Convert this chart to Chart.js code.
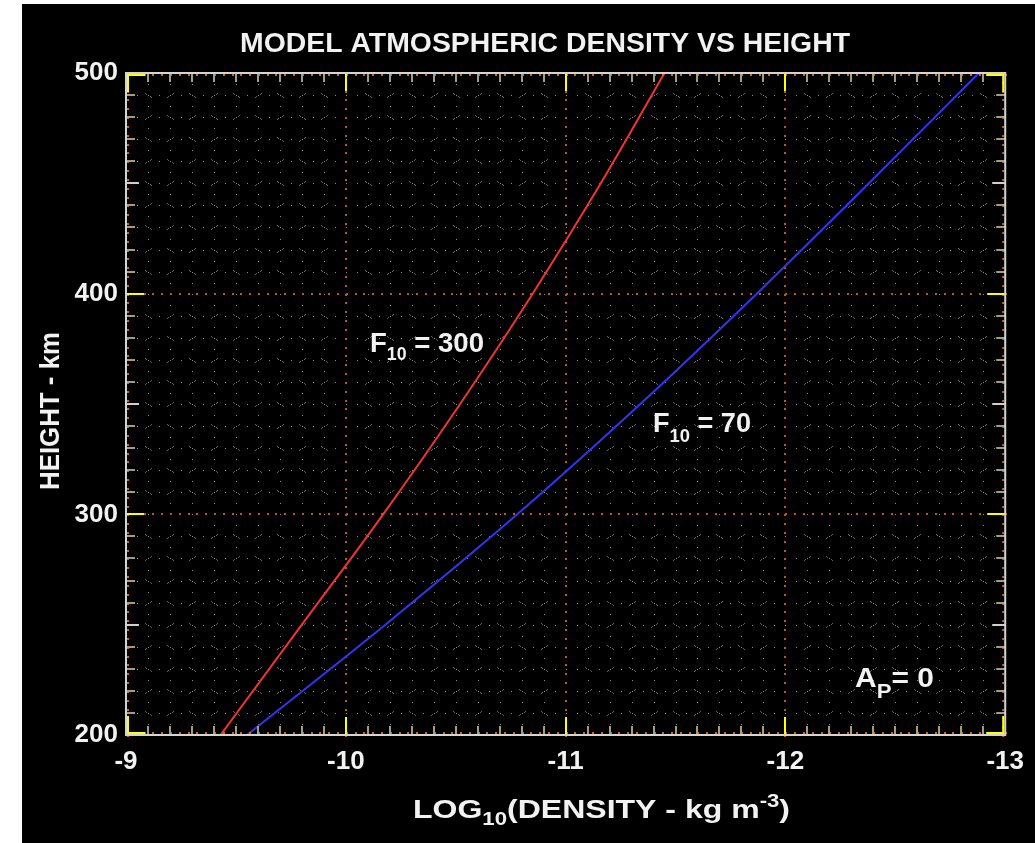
<!DOCTYPE html>
<html>
<head>
<meta charset="utf-8">
<title>Model Atmospheric Density vs Height</title>
<script src="https://cdn.jsdelivr.net/npm/chart.js@4.4.1/dist/chart.umd.min.js"></script>
<style>
  html, body { margin: 0; padding: 0; background: #ffffff; overflow: hidden; }
  #wrap { position: absolute; left: 0; top: 0; width: 1035px; height: 843px; }
  canvas { display: block; }
</style>
</head>
<body>
<div id="wrap"><canvas id="chart" width="1035" height="843"></canvas></div>
<script>
// Height (km) and log10 density (kg m^-3) for two solar flux levels, Ap = 0
const heightsKm = [200, 250, 300, 350, 400, 450, 500];
const logDensityF300 = [-9.43, -9.80, -10.17, -10.52, -10.85, -11.16, -11.45];
const logDensityF70  = [-9.55, -10.18, -10.78, -11.34, -11.87, -12.38, -12.88];

// Labelled ticks
const xTickValues = [-9, -10, -11, -12, -13];
const yTickValues = [200, 300, 400, 500];

const FAMILY = '"Liberation Sans", Arial, Helvetica, sans-serif';
const TEXT = '#f2f2f2';

// Draws a run of text pieces (with sub/superscripts), squeezed to a given width
function drawRich(ctx, parts, x, baseline, width) {
  let total = 0;
  parts.forEach(p => {
    ctx.font = `bold ${p.size}px ${FAMILY}`;
    p.w = ctx.measureText(p.t).width;
    total += p.w;
  });
  const k = width ? width / total : 1;
  ctx.save();
  ctx.translate(x, baseline);
  ctx.scale(k, 1);
  ctx.fillStyle = TEXT;
  ctx.textAlign = 'left';
  ctx.textBaseline = 'alphabetic';
  let cx = 0;
  parts.forEach(p => {
    ctx.font = `bold ${p.size}px ${FAMILY}`;
    ctx.fillText(p.t, cx, p.dy || 0);
    cx += p.w;
  });
  ctx.restore();
}

// Black panel behind the whole figure
const backdrop = {
  id: 'backdrop',
  beforeDraw(chart) {
    const ctx = chart.ctx;
    ctx.save();
    ctx.fillStyle = '#ffffff';
    ctx.fillRect(0, 0, chart.width, chart.height);
    ctx.fillStyle = '#000000';
    ctx.fillRect(22, 4, chart.width - 22, chart.height - 4);
    ctx.restore();
  }
};

// Dotted minor grid and orange dotted major grid
const plotGrid = {
  id: 'plotGrid',
  beforeDatasetsDraw(chart) {
    const { ctx, scales: { x, y } } = chart;
    ctx.save();
    // minor lines: gray dots every half minor step
    ctx.fillStyle = '#8a8a8a';
    for (let i = 1; i < 40; i++) {
      if (i % 10 === 0) continue;
      const px = Math.round(x.getPixelForValue(-9 - i * 0.1));
      for (let j = 0; j <= 60; j++) {
        const py = Math.round(y.getPixelForValue(200 + j * 5));
        ctx.fillRect(px, py, 1, 1);
      }
    }
    for (let i = 1; i < 30; i++) {
      if (i % 10 === 0) continue;
      const py = Math.round(y.getPixelForValue(200 + i * 10));
      for (let j = 0; j <= 80; j++) {
        const px = Math.round(x.getPixelForValue(-9 - j * 0.05));
        ctx.fillRect(px, py, 1, 1);
      }
    }
    // small diagonal specks beside each minor crossing
    ctx.fillStyle = '#5e5e5e';
    for (let i = 1; i < 40; i++) {
      if (i % 10 === 0) continue;
      const px = Math.round(x.getPixelForValue(-9 - i * 0.1));
      for (let k = 1; k < 30; k++) {
        if (k % 10 === 0) continue;
        const py = Math.round(y.getPixelForValue(200 + k * 10));
        const s = (i + k) % 2 === 0 ? 1 : -1;
        ctx.fillRect(px - 3, py - 2 * s, 1, 1);
        ctx.fillRect(px - 2, py - 1 * s, 1, 1);
        ctx.fillRect(px + 2, py + 1 * s, 1, 1);
        ctx.fillRect(px + 3, py + 2 * s, 1, 1);
      }
    }
    // major lines: orange dots
    ctx.fillStyle = '#c05a0e';
    [-10, -11, -12].forEach(v => {
      const px = Math.round(x.getPixelForValue(v));
      for (let j = 0; j <= 75; j++) {
        const py = Math.round(y.getPixelForValue(200 + j * 4));
        ctx.fillRect(px - 1, py, 2, 2);
      }
    });
    [300, 400].forEach(v => {
      const py = Math.round(y.getPixelForValue(v));
      for (let j = 0; j <= 100; j++) {
        const px = Math.round(x.getPixelForValue(-9 - j * 0.04));
        ctx.fillRect(px, py - 1, 2, 2);
      }
    });
    ctx.restore();
  }
};

// Frame, inward ticks, corner marks and all annotation text
const frameAndText = {
  id: 'frameAndText',
  afterDatasetsDraw(chart) {
    const { ctx, chartArea: a, scales: { x, y } } = chart;
    ctx.save();

    // orange dotted rim just inside the frame
    ctx.fillStyle = '#d8640e';
    for (let j = 0; j <= 100; j++) {
      const px = Math.round(x.getPixelForValue(-9 - j * 0.04));
      ctx.fillRect(px, a.top + 1, 2, 2);
      ctx.fillRect(px, a.bottom - 3, 2, 2);
    }
    for (let j = 0; j <= 75; j++) {
      const py = Math.round(y.getPixelForValue(200 + j * 4));
      ctx.fillRect(a.left + 1, py, 2, 2);
      ctx.fillRect(a.right - 3, py, 2, 2);
    }

    // minor ticks (tan), mid ticks on the height axis (light)
    ctx.fillStyle = '#a49e80';
    for (let i = 1; i < 40; i++) {
      if (i % 10 === 0) continue;
      const px = Math.round(x.getPixelForValue(-9 - i * 0.1));
      ctx.fillRect(px - 1, a.bottom - 9, 2, 9);
      ctx.fillRect(px - 1, a.top, 2, 9);
    }
    for (let i = 1; i < 30; i++) {
      if (i % 10 === 0) continue;
      const py = Math.round(y.getPixelForValue(200 + i * 10));
      const len = (i % 5 === 0) ? 13 : 9;
      ctx.fillStyle = (i % 5 === 0) ? '#cfcfcf' : '#a49e80';
      ctx.fillRect(a.left, py - 1, len, 2);
      ctx.fillRect(a.right - len, py - 1, len, 2);
    }

    // major ticks (yellow)
    ctx.fillStyle = '#ffff00';
    [-10, -11, -12].forEach(v => {
      const px = Math.round(x.getPixelForValue(v));
      ctx.fillRect(px - 1, a.bottom - 18, 2, 18);
      ctx.fillRect(px - 1, a.top, 2, 18);
    });
    [300, 400].forEach(v => {
      const py = Math.round(y.getPixelForValue(v));
      ctx.fillRect(a.left, py - 1, 18, 2);
      ctx.fillRect(a.right - 18, py - 1, 18, 2);
    });

    // frame
    ctx.strokeStyle = '#d4d4d4';
    ctx.lineWidth = 2;
    ctx.strokeRect(a.left, a.top, a.right - a.left, a.bottom - a.top);

    // yellow corner marks
    ctx.fillStyle = '#ffff00';
    const L = 18;
    ctx.fillRect(a.left + 1, a.top + 1, L, 2);
    ctx.fillRect(a.left + 1, a.top + 1, 2, L);
    ctx.fillRect(a.right - 1 - L, a.top + 1, L, 2);
    ctx.fillRect(a.right - 3, a.top + 1, 2, L);
    ctx.fillRect(a.left + 1, a.bottom - 3, L, 2);
    ctx.fillRect(a.left + 1, a.bottom - 1 - L, 2, L);
    ctx.fillRect(a.right - 1 - L, a.bottom - 3, L, 2);
    ctx.fillRect(a.right - 3, a.bottom - 1 - L, 2, L);

    // titles
    drawRich(ctx, [{ t: 'MODEL ATMOSPHERIC DENSITY VS HEIGHT', size: 28 }], 240, 52, 610);
    drawRich(ctx, [
      { t: 'LOG', size: 26 },
      { t: '10', size: 18, dy: 7 },
      { t: '(DENSITY - kg m', size: 26 },
      { t: '-3', size: 18, dy: -11 },
      { t: ')', size: 26 }
    ], 413, 818, 377);

    ctx.save();
    ctx.translate(59, 490);
    ctx.rotate(-Math.PI / 2);
    drawRich(ctx, [{ t: 'HEIGHT - km', size: 27 }], 0, 0, 158);
    ctx.restore();

    // curve labels
    drawRich(ctx, [
      { t: 'F', size: 28 }, { t: '10', size: 18, dy: 8 }, { t: ' = 300', size: 28 }
    ], 370, 352, 114);
    drawRich(ctx, [
      { t: 'F', size: 28 }, { t: '10', size: 19, dy: 10 }, { t: ' = 70', size: 28 }
    ], 653, 432, 98);
    drawRich(ctx, [
      { t: 'A', size: 27 }, { t: 'P', size: 20, dy: 11 }, { t: '= 0', size: 27 }
    ], 855, 687, 79);

    ctx.restore();
  }
};

const toPoints = (xs, ys) => xs.map((v, i) => ({ x: v, y: ys[i] }));

new Chart(document.getElementById('chart'), {
  type: 'line',
  data: {
    datasets: [
      {
        label: 'F10 = 300',
        data: toPoints(logDensityF300, heightsKm),
        borderColor: '#f03434',
        borderWidth: 2,
        pointRadius: 0,
        cubicInterpolationMode: 'monotone',
        fill: false
      },
      {
        label: 'F10 = 70',
        data: toPoints(logDensityF70, heightsKm),
        borderColor: '#3434f0',
        borderWidth: 2,
        pointRadius: 0,
        cubicInterpolationMode: 'monotone',
        fill: false
      }
    ]
  },
  options: {
    responsive: false,
    animation: false,
    devicePixelRatio: 1,
    layout: { padding: { left: 0, top: 73, right: 25, bottom: 0 } },
    plugins: { legend: { display: false }, tooltip: { enabled: false }, title: { display: false } },
    scales: {
      x: {
        type: 'linear',
        min: -13,
        max: -9,
        reverse: true,
        afterBuildTicks(s) { s.ticks = xTickValues.map(v => ({ value: v })); },
        afterFit(s) { s.height = 108; },
        grid: { display: false, drawTicks: false },
        border: { display: false },
        ticks: {
          color: TEXT,
          padding: 11,
          autoSkip: false,
          maxRotation: 0,
          font: { family: FAMILY, size: 26, weight: 'bold' }
        }
      },
      y: {
        type: 'linear',
        min: 200,
        max: 500,
        afterBuildTicks(s) { s.ticks = yTickValues.map(v => ({ value: v })); },
        afterFit(s) { s.width = 126; },
        grid: { display: false, drawTicks: false },
        border: { display: false },
        ticks: {
          color: TEXT,
          padding: 8,
          autoSkip: false,
          font: { family: FAMILY, size: 26, weight: 'bold' }
        }
      }
    }
  },
  plugins: [backdrop, plotGrid, frameAndText]
});
</script>
</body>
</html>
